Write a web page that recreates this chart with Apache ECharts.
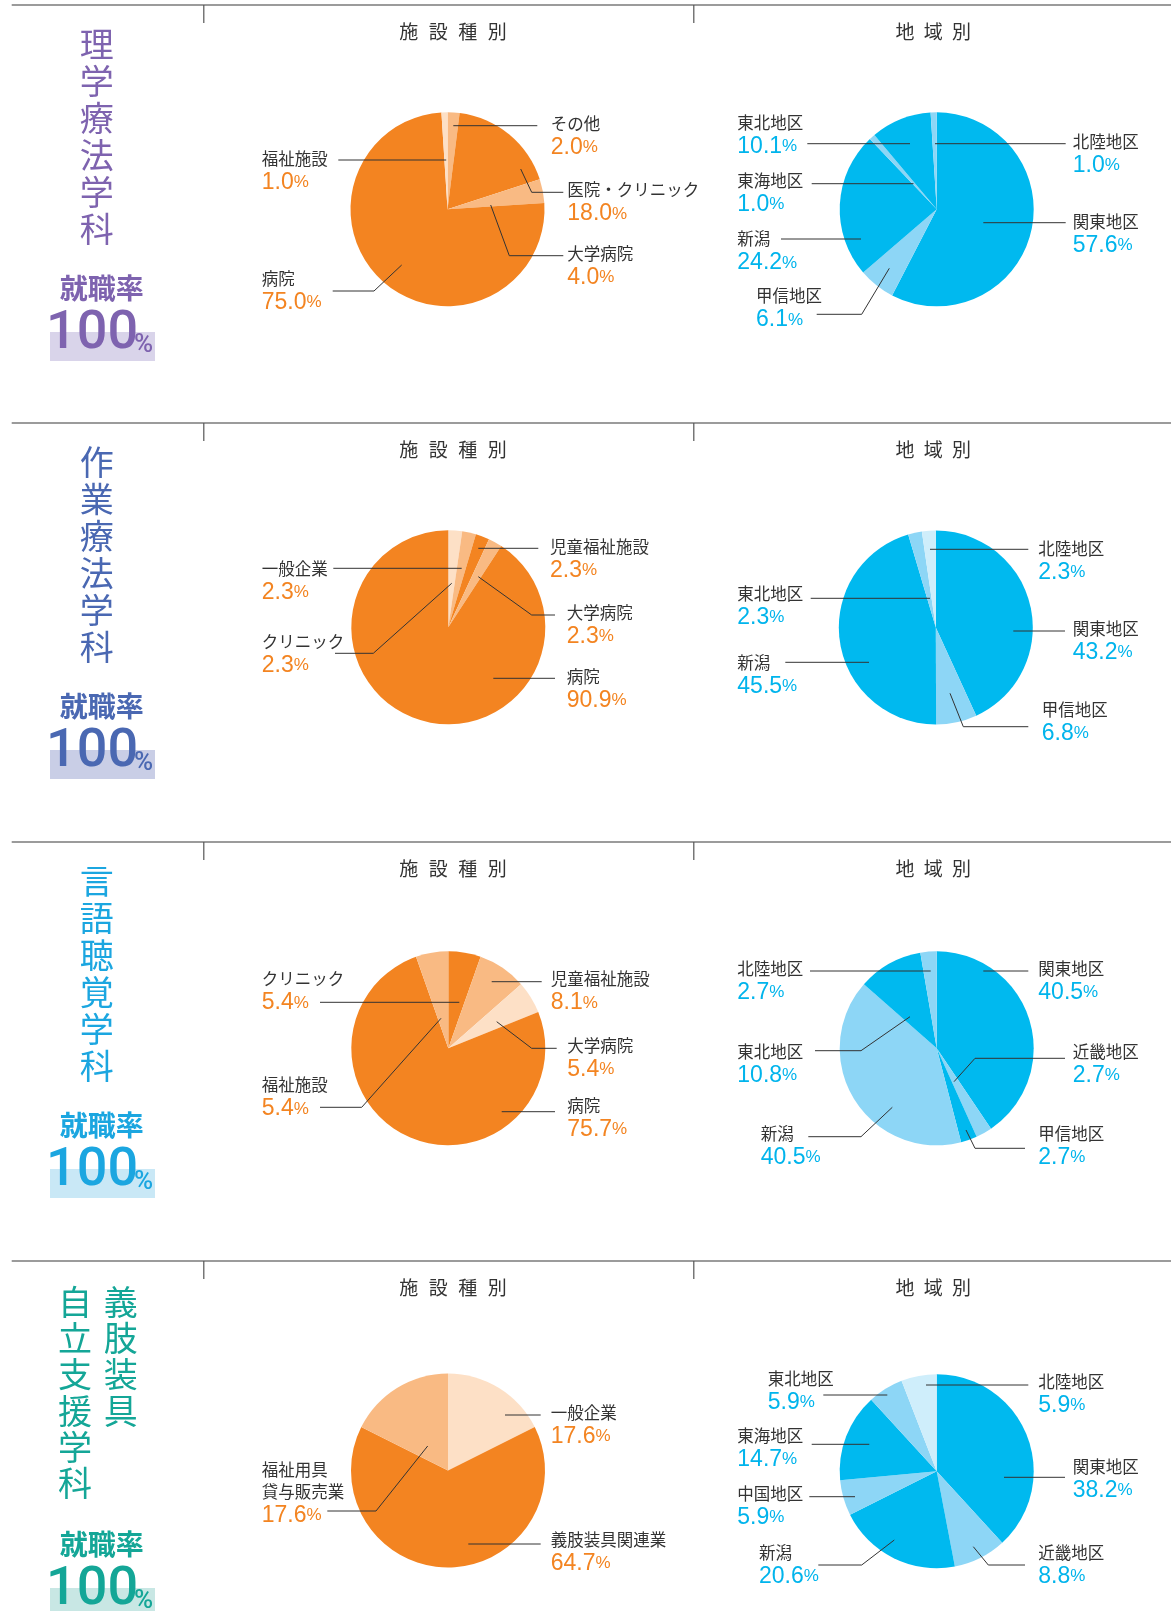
<!DOCTYPE html>
<html><head><meta charset="utf-8">
<script src="https://cdn.jsdelivr.net/npm/echarts@6/dist/echarts.min.js"></script>
<style>html,body{margin:0;padding:0;background:#fff}#c{width:1171px;height:1611px}</style>
</head><body><div id="c"></div>
<script>
// ---------------- DATA ----------------
const headerFacility = '施設種別';
const headerRegion = '地域別';
const rateLabel = '就職率';
const rateValue = '100';

// 理学療法学科
const ptTitle = ['理学療法学科'];
const ptFacilityNames = ['その他', '医院・クリニック', '大学病院', '病院', '福祉施設'];
const ptFacilityValues = [2.0, 18.0, 4.0, 75.0, 1.0];
const ptRegionNames = ['関東地区', '甲信地区', '新潟', '東海地区', '東北地区', '北陸地区'];
const ptRegionValues = [57.6, 6.1, 24.2, 1.0, 10.1, 1.0];

// 作業療法学科
const otTitle = ['作業療法学科'];
const otFacilityNames = ['クリニック', '一般企業', '児童福祉施設', '大学病院', '病院'];
const otFacilityValues = [2.3, 2.3, 2.3, 2.3, 90.9];
const otRegionNames = ['関東地区', '甲信地区', '新潟', '東北地区', '北陸地区'];
const otRegionValues = [43.2, 6.8, 45.5, 2.3, 2.3];

// 言語聴覚学科
const stTitle = ['言語聴覚学科'];
const stFacilityNames = ['クリニック', '児童福祉施設', '大学病院', '病院', '福祉施設'];
const stFacilityValues = [5.4, 8.1, 5.4, 75.7, 5.4];
const stRegionNames = ['関東地区', '近畿地区', '甲信地区', '新潟', '東北地区', '北陸地区'];
const stRegionValues = [40.5, 2.7, 2.7, 40.5, 10.8, 2.7];

// 義肢装具自立支援学科
const poTitle = ['義肢装具', '自立支援学科'];
const poFacilityNames = ['一般企業', '義肢装具関連業', '福祉用具\n貸与販売業'];
const poFacilityValues = [17.6, 64.7, 17.6];
const poRegionNames = ['関東地区', '近畿地区', '新潟', '中国地区', '東海地区', '東北地区', '北陸地区'];
const poRegionValues = [38.2, 8.8, 20.6, 5.9, 14.7, 5.9, 5.9];

// ---------------- STYLE / LAYOUT ----------------
const CJK = '"Noto Sans CJK JP", "Noto Sans", sans-serif';
const NUM = '"Liberation Sans", Arial, sans-serif';
const TONES = {
  facility: { dark: '#f38421', light: '#f9ba83', pale: '#fde0c6' },
  region: { dark: '#00b9ef', light: '#8dd6f6', pale: '#cfeefb' }
};
const VALUE_COLOR = { facility: '#f38421', region: '#00b4ec' };

const ptFacilityTones = ['light', 'dark', 'light', 'dark', 'pale'];
const ptRegionTones = ['dark', 'light', 'dark', 'light', 'dark', 'light'];
const otFacilityTones = ['pale', 'light', 'dark', 'light', 'dark'];
const otRegionTones = ['dark', 'light', 'dark', 'light', 'pale'];
const stFacilityTones = ['dark', 'light', 'pale', 'dark', 'light'];
const stRegionTones = ['dark', 'light', 'dark', 'light', 'dark', 'light'];
const poFacilityTones = ['pale', 'dark', 'light'];
const poRegionTones = ['dark', 'light', 'dark', 'light', 'dark', 'light', 'pale'];

// label placement: x = text left, y = first name line centre, line = leader polyline
const ptFacilityLabels = [
  { x: 550.7, y: 123.3, line: [[453.3, 125.7], [537.3, 125.7]] },
  { x: 567.3, y: 190, line: [[520.7, 169], [531.7, 192.3], [563.3, 192.3]] },
  { x: 567.3, y: 253.3, line: [[490.7, 205], [509.3, 255.7], [563.3, 255.7]] },
  { x: 261.7, y: 278.3, line: [[401.7, 265], [374, 291], [332.7, 291]] },
  { x: 261.7, y: 158.3, line: [[446.2, 160], [338.3, 160]] }
];
const ptRegionLabels = [
  { x: 1072.7, y: 221.7, line: [[983.3, 222.7], [1065.7, 222.7]] },
  { x: 756, y: 296, line: [[889.3, 268.3], [861.7, 314.3], [816.7, 314.3]] },
  { x: 737.3, y: 239, line: [[861, 239], [781, 239]] },
  { x: 737.3, y: 180.7, line: [[913.5, 183.7], [811.7, 183.7]] },
  { x: 737.3, y: 122.7, line: [[910, 143.7], [807.3, 143.7]] },
  { x: 1072.7, y: 141.7, line: [[935, 143.7], [1065.7, 143.7]] }
];
const otFacilityLabels = [
  { x: 261.7, y: 641.7, line: [[451.7, 583.3], [373.3, 653.3], [335, 653.3]] },
  { x: 261.7, y: 568.3, line: [[461.7, 568.3], [333.3, 568.3]] },
  { x: 550, y: 546.7, line: [[478.3, 548.3], [538.3, 548.3]] },
  { x: 566.7, y: 612.7, line: [[478.3, 576.7], [531.7, 615], [555, 615]] },
  { x: 566.7, y: 676.7, line: [[493.3, 678.3], [555, 678.3]] }
];
const otRegionLabels = [
  { x: 1072.7, y: 628.3, line: [[1013.3, 631], [1065, 631]] },
  { x: 1041.7, y: 709.3, line: [[950, 693.3], [963.3, 726.7], [1028.3, 726.7]] },
  { x: 737.3, y: 662.7, line: [[869, 662.3], [785.3, 662.3]] },
  { x: 737.3, y: 593.3, line: [[930, 598.3], [810.7, 598.3]] },
  { x: 1038.3, y: 548.3, line: [[930, 549.3], [1028.3, 549.3]] }
];
const stFacilityLabels = [
  { x: 261.7, y: 979, line: [[459.3, 1002.3], [320, 1002.3]] },
  { x: 550.7, y: 979, line: [[491.7, 981.7], [541.7, 981.7]] },
  { x: 567.3, y: 1045.7, line: [[496.7, 1021.7], [531.7, 1048.3], [556.7, 1048.3]] },
  { x: 567.3, y: 1105.7, line: [[501.7, 1111.7], [555, 1111.7]] },
  { x: 261.7, y: 1085, line: [[441, 1018.3], [361.7, 1107.3], [320, 1107.3]] }
];
const stRegionLabels = [
  { x: 1038.3, y: 968.3, line: [[983.3, 971], [1028.3, 971]] },
  { x: 1072.7, y: 1051.7, line: [[954, 1081.7], [975, 1058.3], [1065, 1058.3]] },
  { x: 1038.3, y: 1133.3, line: [[966, 1130], [975, 1148.3], [1025, 1148.3]] },
  { x: 760.7, y: 1133.3, line: [[892.3, 1107.3], [861, 1136.7], [808.3, 1136.7]] },
  { x: 737.3, y: 1051.7, line: [[910, 1016.7], [861, 1050.7], [815, 1050.7]] },
  { x: 737.3, y: 968.3, line: [[930.7, 971], [810, 971]] }
];
const poFacilityLabels = [
  { x: 550.7, y: 1412.7, line: [[505, 1415], [540.7, 1415]] },
  { x: 550.7, y: 1539.3, line: [[468.3, 1544], [540.7, 1544]] },
  { x: 261.7, y: 1469.3, line: [[427.7, 1446], [376, 1511], [327.3, 1511]] }
];
const poRegionLabels = [
  { x: 1072.7, y: 1466.7, line: [[1004, 1477.3], [1065, 1477.3]] },
  { x: 1038.3, y: 1552.7, line: [[973.3, 1546.7], [988.3, 1565], [1025, 1565]] },
  { x: 759, y: 1552.7, line: [[894.3, 1540], [861.7, 1565], [818.3, 1565]] },
  { x: 737.3, y: 1493.3, line: [[855, 1496.7], [809.3, 1496.7]] },
  { x: 737.3, y: 1435.7, line: [[869.3, 1444.3], [811.7, 1444.3]] },
  { x: 767.7, y: 1378.3, line: [[887.3, 1395], [823.3, 1395]] },
  { x: 1038.3, y: 1381.7, line: [[926, 1385], [1028.3, 1385]] }
];

const sections = [
  { title: ptTitle, color: '#7e63af', band: '#d9d4ea', lineY: 5,
    fac: [ptFacilityNames, ptFacilityValues, ptFacilityTones, [447.5, 209.2], ptFacilityLabels],
    reg: [ptRegionNames, ptRegionValues, ptRegionTones, [936.7, 209.3], ptRegionLabels] },
  { title: otTitle, color: '#4a68b2', band: '#c9cee6', lineY: 423,
    fac: [otFacilityNames, otFacilityValues, otFacilityTones, [448.3, 627.3], otFacilityLabels],
    reg: [otRegionNames, otRegionValues, otRegionTones, [935.8, 627.5], otRegionLabels] },
  { title: stTitle, color: '#1ba6e0', band: '#c9e8f6', lineY: 842,
    fac: [stFacilityNames, stFacilityValues, stFacilityTones, [448.3, 1048.3], stFacilityLabels],
    reg: [stRegionNames, stRegionValues, stRegionTones, [936.7, 1048.3], stRegionLabels] },
  { title: poTitle, color: '#14a697', band: '#c8e7e4', lineY: 1261,
    fac: [poFacilityNames, poFacilityValues, poFacilityTones, [448, 1470.5], poFacilityLabels],
    reg: [poRegionNames, poRegionValues, poRegionTones, [936.7, 1471.2], poRegionLabels] }
];

// ---------------- BUILD ----------------
const graphic = [];
function pieSeries(kind, names, values, tones, center, labels) {
  // leader lines drawn as polylines next to each slice label
  labels.forEach(L => graphic.push({ type: 'polyline', silent: true, z: 10,
    shape: { points: L.line }, style: { stroke: '#333333', lineWidth: 1, fill: null } }));
  return {
    type: 'pie', center: center, radius: 97, startAngle: 90, clockwise: true,
    avoidLabelOverlap: false, animation: false, silent: true,
    itemStyle: { borderWidth: 0 },
    data: names.map((n, i) => ({ name: n, value: values[i], itemStyle: { color: TONES[kind][tones[i]] } })),
    label: {
      show: true, position: 'outside',
      formatter: p => p.name.split('\n').map(s => '{n|' + s + '}').join('\n') + '\n{v|' + p.value.toFixed(1) + '}{p|%}',
      rich: {
        n: { fontSize: 16.5, color: '#333333', fontFamily: CJK, lineHeight: 22 },
        v: { fontSize: 23, color: VALUE_COLOR[kind], fontFamily: NUM, lineHeight: 26 },
        p: { fontSize: 17, color: VALUE_COLOR[kind], fontFamily: NUM, lineHeight: 26 }
      }
    },
    labelLine: { show: false },
    labelLayout: function (p) {
      const L = labels[p.dataIndex];
      return { x: L.x, y: L.y - 11, align: 'left', verticalAlign: 'top' };
    }
  };
}

const series = [];
sections.forEach(s => {
  series.push(pieSeries('facility', ...s.fac));
  series.push(pieSeries('region', ...s.reg));
  const ly = s.lineY;
  graphic.push({ type: 'line', silent: true, shape: { x1: 11.7, y1: ly, x2: 1171, y2: ly }, style: { stroke: '#7a7a7a', lineWidth: 1.5 } });
  [203.8, 693.8].forEach(tx => graphic.push({ type: 'line', silent: true, shape: { x1: tx, y1: ly, x2: tx, y2: ly + 18 }, style: { stroke: '#555', lineWidth: 1.2 } }));
  // headers
  Array.from(headerFacility).forEach((ch, i) => graphic.push({ type: 'text', silent: true, x: 453 + (i - 1.5) * 29.5, y: ly + 26.7,
    style: { text: ch, font: '19px ' + CJK, fill: '#333', align: 'center', verticalAlign: 'middle' } }));
  Array.from(headerRegion).forEach((ch, i) => graphic.push({ type: 'text', silent: true, x: 933.3 + (i - 1) * 28.3, y: ly + 26.7,
    style: { text: ch, font: '19px ' + CJK, fill: '#333', align: 'center', verticalAlign: 'middle' } }));
  // vertical titles (rightmost column first)
  const cols = s.title.length === 1 ? [96.7] : [120.7, 75];
  const pitch = s.title.length === 1 ? 37 : 36.3;
  const firstY = s.title.length === 1 ? ly + 39.5 : ly + 40.7;
  s.title.forEach((t, ci) => {
    Array.from(t).forEach((ch, i) => graphic.push({ type: 'text', silent: true, x: cols[ci], y: firstY + i * pitch,
      style: { text: ch, font: '34px ' + CJK, fill: s.color, align: 'center', verticalAlign: 'middle' } }));
  });
  graphic.push({ type: 'text', silent: true, x: 101.7, y: ly + 283,
    style: { text: rateLabel, font: 'bold 28px ' + CJK, fill: s.color, align: 'center', verticalAlign: 'middle' } });
  graphic.push({ type: 'rect', silent: true, shape: { x: 50, y: ly + 327, width: 105, height: 29 }, style: { fill: s.band } });
  graphic.push({ type: 'text', silent: true, x: 46, y: ly + 329,
    style: { text: rateValue, font: '500 54px Roboto, "Liberation Sans", Arial, sans-serif', fill: s.color, align: 'left', verticalAlign: 'middle' } });
  graphic.push({ type: 'text', silent: true, x: 134, y: ly + 340,
    style: { text: '%', font: '500 26px Roboto, "Liberation Sans", Arial, sans-serif', fill: s.color, align: 'left', verticalAlign: 'middle' } });
});

const chart = echarts.init(document.getElementById('c'), null, { renderer: 'canvas', width: 1171, height: 1611 });
chart.setOption({ backgroundColor: '#ffffff', animation: false, series: series, graphic: graphic });
</script></body></html>
